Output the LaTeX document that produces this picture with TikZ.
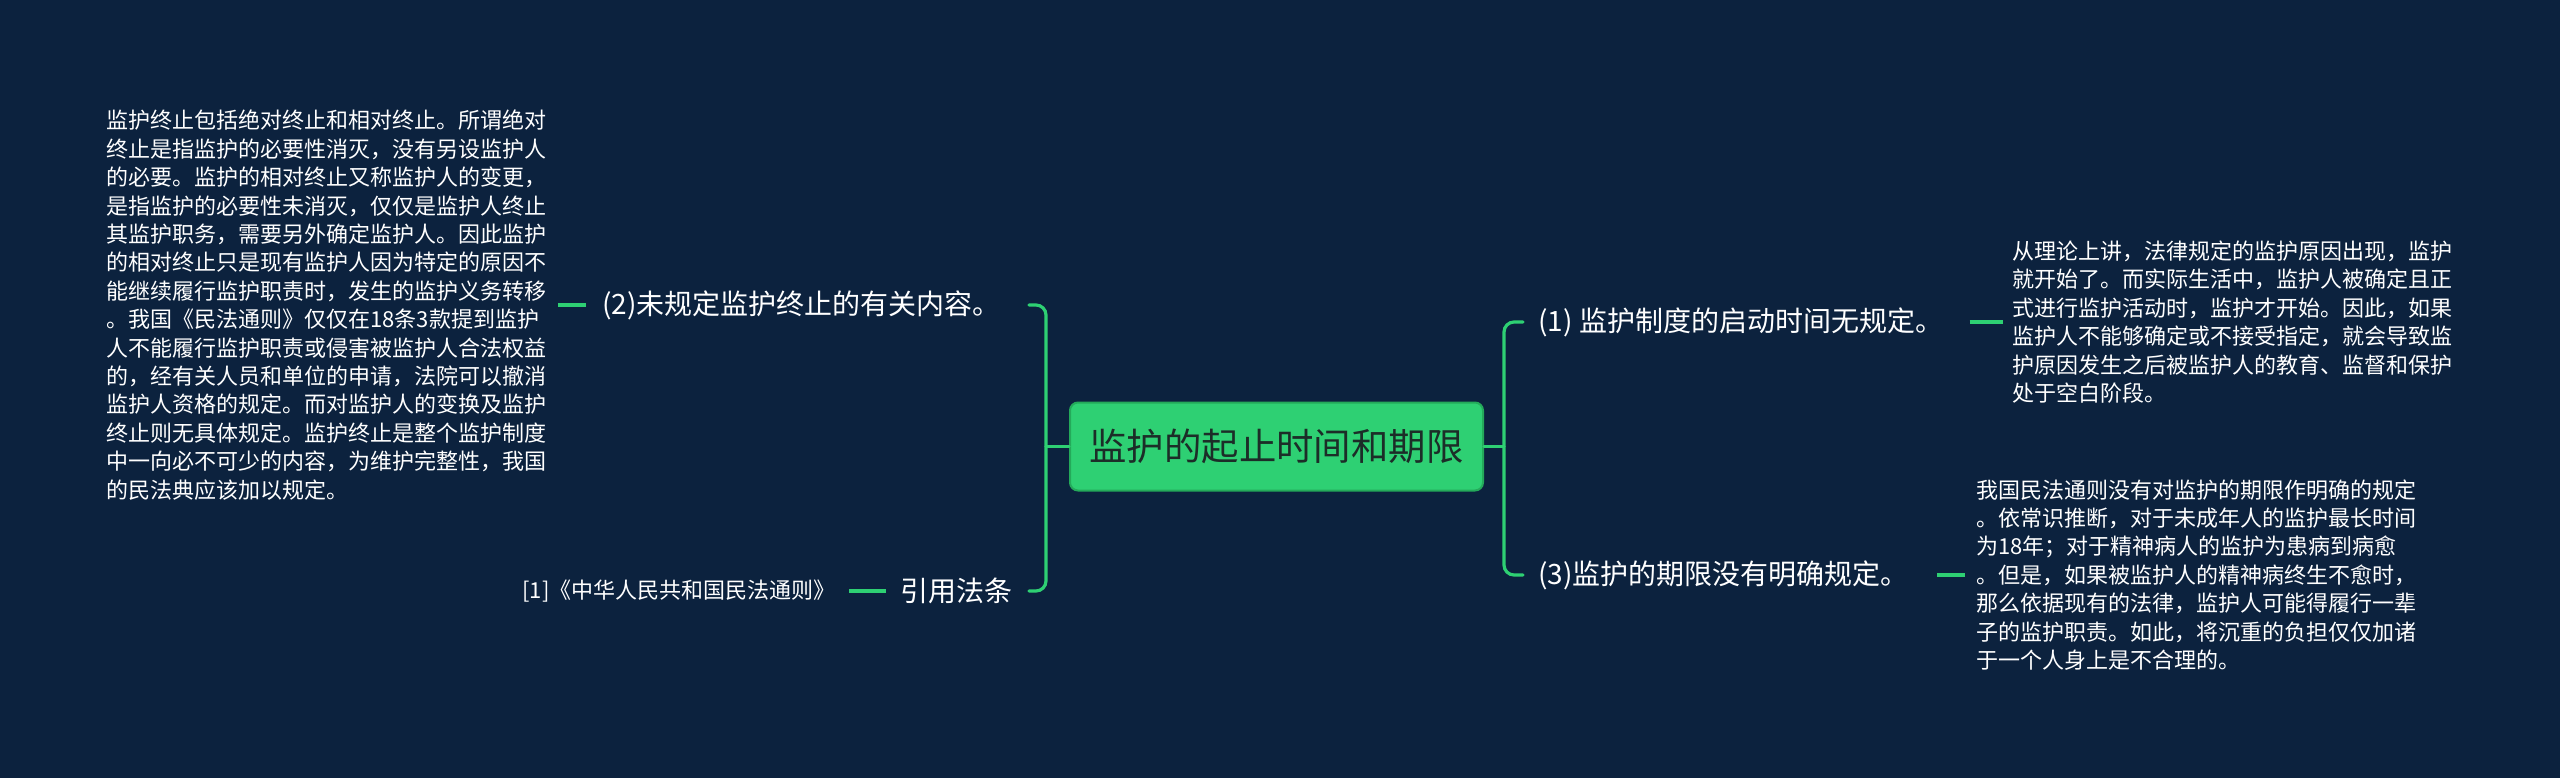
\documentclass[tikz,border=0pt]{standalone}
\usepackage{fontspec}
\setmainfont{Noto Sans CJK SC}
\usepackage{xcolor,tikz}
\usetikzlibrary{positioning}
\definecolor{bgnavy}{RGB}{12,34,62}
\definecolor{mapgreen}{RGB}{46,208,115}
\definecolor{mapedge}{RGB}{36,170,90}
\definecolor{rootink}{RGB}{28,45,40}
\tikzset{rootbox/.style={draw=mapedge,line width=1pt,fill=mapgreen,rounded corners=4pt,
 minimum width=206.5pt,minimum height=44pt,inner sep=0pt,text=rootink,font=\fontsize{18.7pt}{22pt}\selectfont},
 branch/.style={inner sep=0pt,text=white,font=\fontsize{14pt}{17pt}\selectfont},
 leaf/.style={inner sep=0pt,text=white,align=left,font=\fontsize{11pt}{14.2pt}\selectfont},
 link/.style={draw=mapgreen,line width=1.6pt,line cap=round},
 stub/.style={link,line cap=butt}}

\begin{document}
\begin{tikzpicture}[x=0.5pt,y=-0.5pt]
\fill[bgnavy] (0,0) rectangle (2560,778);
\useasboundingbox (0,0) rectangle (2560,778);
\node[rootbox] (root) at (1276.5,446.5) {监护的起止时间和期限};
\node[branch,anchor=east] (b2) at (1001,305) {(2)未规定监护终止的有关内容。};
\node[branch,anchor=east] (cite) at (1013,591) {引用法条};
\node[branch,anchor=west] (b1) at (1538,322) {(1) 监护制度的启动时间无规定。};
\node[branch,anchor=west] (b3) at (1538,575) {(3)监护的期限没有明确规定。};
\node[leaf,anchor=west] (t2) at (106,305) {监护终止包括绝对终止和相对终止。所谓绝对\\终止是指监护的必要性消灭，没有另设监护人\\的必要。监护的相对终止又称监护人的变更，\\是指监护的必要性未消灭，仅仅是监护人终止\\其监护职务，需要另外确定监护人。因此监护\\的相对终止只是现有监护人因为特定的原因不\\能继续履行监护职责时，发生的监护义务转移\\。我国《民法通则》仅仅在18条3款提到监护\\人不能履行监护职责或侵害被监护人合法权益\\的，经有关人员和单位的申请，法院可以撤消\\监护人资格的规定。而对监护人的变换及监护\\终止则无具体规定。监护终止是整个监护制度\\中一向必不可少的内容，为维护完整性，我国\\的民法典应该加以规定。};
\node[leaf,anchor=east] (law) at (836,591) {[1]《中华人民共和国民法通则》};
\node[leaf,anchor=west] (t1) at (2012,322) {从理论上讲，法律规定的监护原因出现，监护\\就开始了。而实际生活中，监护人被确定且正\\式进行监护活动时，监护才开始。因此，如果\\监护人不能够确定或不接受指定，就会导致监\\护原因发生之后被监护人的教育、监督和保护\\处于空白阶段。};
\node[leaf,anchor=west] (t3) at (1976,575) {我国民法通则没有对监护的期限作明确的规定\\。依常识推断，对于未成年人的监护最长时间\\为18年；对于精神病人的监护为患病到病愈\\。但是，如果被监护人的精神病终生不愈时，\\那么依据现有的法律，监护人可能得履行一辈\\子的监护职责。如此，将沉重的负担仅仅加诸\\于一个人身上是不合理的。};
\draw[link] (root.west)--++(-11.5pt,0);
\draw[link,rounded corners=5pt] ([xshift=14pt]b2.east) -| ([xshift=-11.5pt]root.west) |- ([xshift=8pt]cite.east);
\draw[link] (root.east)--++(10pt,0);
\draw[link,rounded corners=5pt] ([xshift=-7.5pt]b1.west) -| ([xshift=10pt]root.east) |- ([xshift=-7.5pt]b3.west);
\draw[stub,shorten <=8pt,shorten >=5.5pt] (b2.west)--(t2.east);
\draw[stub,shorten <=7pt,shorten >=6.5pt] (cite.west)--(law.east);
\draw[stub,shorten <=13pt,shorten >=4.5pt] (b1.east)--(t1.west);
\draw[stub,shorten <=14pt,shorten >=5.5pt] (b3.east)--(t3.west);
\end{tikzpicture}
\end{document}
